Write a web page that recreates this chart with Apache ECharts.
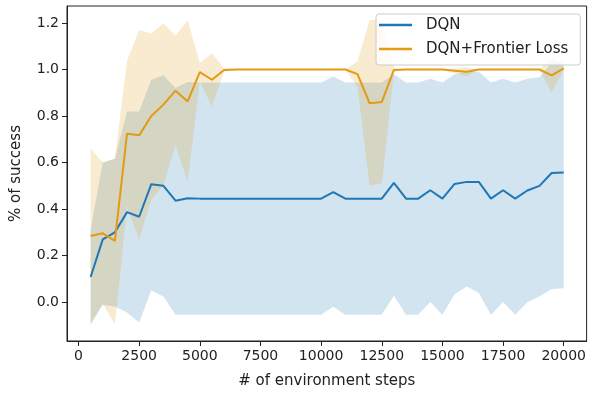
<!DOCTYPE html>
<html>
<head>
<meta charset="utf-8">
<script src="https://cdn.jsdelivr.net/npm/echarts@6/dist/echarts.min.js"></script>
<style>
html,body{margin:0;padding:0;background:#fff;}
#chart{width:589px;height:394px;}
</style>
</head>
<body>
<div id="chart"></div>
<script>
const steps = [500,1000,1500,2000,2500,3000,3500,4000,4500,5000,5500,6000,6500,7000,7500,8000,8500,9000,9500,10000,10500,11000,11500,12000,12500,13000,13500,14000,14500,15000,15500,16000,16500,17000,17500,18000,18500,19000,19500,20000];

const dqnMean = [0.108,0.27,0.30,0.387,0.367,0.507,0.50,0.436,0.447,0.445,0.445,0.445,0.445,0.445,0.445,0.445,0.445,0.445,0.445,0.445,0.473,0.445,0.445,0.445,0.445,0.513,0.445,0.445,0.481,0.445,0.508,0.517,0.517,0.445,0.481,0.445,0.48,0.50,0.555,0.557];
const dqnLower = [-0.097,-0.011,-0.019,-0.045,-0.087,0.051,0.024,-0.054,-0.054,-0.054,-0.054,-0.054,-0.054,-0.054,-0.054,-0.054,-0.054,-0.054,-0.054,-0.054,-0.02,-0.054,-0.054,-0.054,-0.054,0.028,-0.054,-0.054,0.001,-0.054,0.034,0.067,0.039,-0.054,0.001,-0.054,0.0,0.024,0.056,0.06];
const dqnUpper = [0.31,0.60,0.616,0.82,0.82,0.956,0.975,0.92,0.946,0.944,0.944,0.944,0.944,0.944,0.944,0.944,0.944,0.944,0.944,0.944,0.97,0.944,0.944,0.944,0.944,0.98,0.944,0.944,0.96,0.944,0.98,0.99,0.99,0.944,0.96,0.944,0.96,0.967,1.03,1.03];

const flMean = [0.284,0.296,0.263,0.724,0.717,0.80,0.849,0.909,0.863,0.989,0.956,0.998,1.0,1.0,1.0,1.0,1.0,1.0,1.0,1.0,1.0,1.0,0.98,0.855,0.86,0.998,1.0,1.0,1.0,1.0,0.995,0.99,1.0,1.0,1.0,1.0,1.0,1.0,0.975,1.005];
const flLower = [-0.09,-0.007,-0.097,0.41,0.27,0.442,0.50,0.677,0.516,0.95,0.841,0.99,1.0,1.0,1.0,1.0,1.0,1.0,1.0,1.0,1.0,1.0,0.925,0.50,0.51,0.99,1.0,1.0,1.0,1.0,0.985,0.97,1.0,1.0,1.0,1.0,1.0,1.0,0.899,1.0];
const flUpper = [0.659,0.60,0.616,1.038,1.17,1.155,1.199,1.145,1.212,1.028,1.07,1.005,1.0,1.0,1.0,1.0,1.0,1.0,1.0,1.0,1.0,1.0,1.035,1.213,1.213,1.005,1.0,1.0,1.0,1.0,1.005,1.01,1.0,1.0,1.0,1.0,1.0,1.0,1.055,1.01];

const xTicks = [0,2500,5000,7500,10000,12500,15000,17500,20000];
const yTicks = [0,0.2,0.4,0.6,0.8,1.0,1.2];

const names = ['DQN','DQN+Frontier Loss'];
const blue = '#1f77b4';
const orange = '#e39a14';
const font = 'DejaVu Sans';
const ink = '#222';

function pairs(arr){ return steps.map((s,i)=>[s,arr[i]]); }

function bandSeries(name, lo, up, color, z){
  return {
    type:'custom', name:name, silent:true, z:z,
    data:[[steps[0], lo[0]]],
    renderItem:function(params, api){
      const pts = [];
      for (let i=0;i<steps.length;i++) pts.push(api.coord([steps[i], up[i]]));
      for (let i=steps.length-1;i>=0;i--) pts.push(api.coord([steps[i], lo[i]]));
      return {type:'polygon', shape:{points:pts}, style:{fill:color, opacity:0.2}};
    }
  };
}

const chart = echarts.init(document.getElementById('chart'), null, {renderer:'canvas'});
chart.setOption({
  animation:false,
  backgroundColor:'#fff',
  grid:{left:67, top:6, right:2, bottom:52, show:true, borderColor:ink, borderWidth:1, backgroundColor:'transparent'},
  legend:{
    data:names, left:376, top:14, orient:'vertical', icon:'rect', itemWidth:33, itemHeight:2.5, itemGap:4,
    padding:[1,12,6,3], backgroundColor:'rgba(255,255,255,0.8)', borderColor:'#cccccc', borderWidth:1, borderRadius:3,
    textStyle:{fontFamily:font, fontSize:15, color:ink, lineHeight:20, padding:[0,0,0,9]}
  },
  xAxis:{
    type:'value', min:-474, max:20943,
    name:'# of environment steps', nameLocation:'middle', nameGap:33,
    nameTextStyle:{fontFamily:font, fontSize:15, color:ink},
    axisLine:{show:true, onZero:false, lineStyle:{color:ink, width:1}},
    axisTick:{show:true, length:5, customValues:xTicks, lineStyle:{color:ink}},
    axisLabel:{customValues:xTicks, fontFamily:font, fontSize:14, color:ink, margin:8, formatter:v=>String(v)},
    splitLine:{show:false}
  },
  yAxis:{
    type:'value', min:-0.167, max:1.273,
    name:'% of success', nameLocation:'middle', nameGap:43,
    nameTextStyle:{fontFamily:font, fontSize:15, color:ink},
    axisLine:{show:true, onZero:false, lineStyle:{color:ink, width:1}},
    axisTick:{show:true, length:5, customValues:yTicks, lineStyle:{color:ink}},
    axisLabel:{customValues:yTicks, fontFamily:font, fontSize:14, color:ink, margin:8, formatter:v=>v.toFixed(1)},
    splitLine:{show:false}
  },
  series:[
    bandSeries('dqnBand', dqnLower, dqnUpper, blue, 1),
    bandSeries('flBand', flLower, flUpper, orange, 2),
    {type:'line', name:names[0], data:pairs(dqnMean), symbol:'none', color:blue, lineStyle:{color:blue, width:2}, z:3},
    {type:'line', name:names[1], data:pairs(flMean), symbol:'none', color:orange, lineStyle:{color:orange, width:2}, z:4}
  ]
});
</script>
</body>
</html>
